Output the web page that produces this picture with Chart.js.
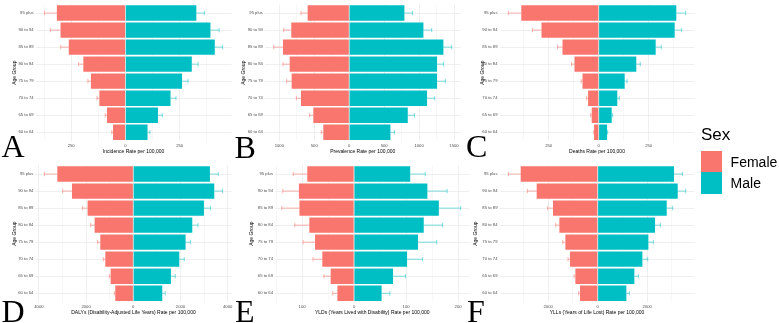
<!DOCTYPE html>
<html><head><meta charset="utf-8">
<script src="https://cdn.jsdelivr.net/npm/chart.js@4.4.1/dist/chart.umd.min.js"></script>
<style>
html,body{margin:0;padding:0;background:#fff;}
#wrap{position:relative;width:779px;height:323px;overflow:hidden;background:#fff;}
#wrap canvas{position:absolute;left:0;top:0;}
.lab{position:absolute;font-family:"Liberation Serif","Times New Roman",serif;font-size:32px;line-height:32px;color:#000;white-space:nowrap;}
.leg{position:absolute;font-family:"Liberation Sans",Arial,sans-serif;color:#000;white-space:nowrap;}
.key{position:absolute;}
</style></head><body>
<div id="wrap">
  <div class="lab" style="left:1.5px;top:129.9px">A</div>
  <div class="lab" style="left:234.5px;top:130.5px">B</div>
  <div class="lab" style="left:466px;top:130.2px">C</div>
  <div class="lab" style="left:1.5px;top:294.9px">D</div>
  <div class="lab" style="left:235px;top:294.9px">E</div>
  <div class="lab" style="left:467px;top:294.9px">F</div>
  <div class="leg" style="left:701px;top:126.3px;font-size:17px;line-height:17px">Sex</div>
  <div class="key" style="left:701px;top:150.7px;width:21.3px;height:21.6px;background:#F8766D"></div>
  <div class="key" style="left:701px;top:172.3px;width:21.3px;height:21.3px;background:#00BFC4"></div>
  <div class="leg" style="left:730.6px;top:154.85px;font-size:14px;line-height:14px">Female</div>
  <div class="leg" style="left:730.6px;top:176.45px;font-size:14px;line-height:14px">Male</div>
</div>
<script>
// ---------------- data ----------------
const ageGroups = ['95 plus','90 to 94','85 to 89','80 to 84','75 to 79','70 to 74','65 to 69','60 to 64'];

const incidenceFemale      = [316, 299, 261, 194, 159, 120, 85, 57];
const incidenceFemaleUpper = [373, 346, 298, 216, 173, 131, 93, 63];
const incidenceMale        = [327, 392, 412, 306, 261, 208, 150, 102];
const incidenceMaleUpper   = [364, 432, 448, 335, 289, 233, 170, 113];
const incidenceTicks       = [-250, 0, 250];

const prevalenceFemale      = [595, 829, 948, 852, 824, 690, 514, 371];
const prevalenceFemaleUpper = [690, 938, 1081, 948, 895, 757, 567, 400];
const prevalenceMale        = [790, 1062, 1348, 1257, 1257, 1114, 838, 590];
const prevalenceMaleUpper   = [905, 1181, 1467, 1348, 1376, 1224, 933, 648];
const prevalenceTicks       = [-1000, -500, 0, 500, 1000, 1500];

const deathsFemale      = [387, 286, 181, 121, 81, 53, 35, 23];
const deathsFemaleUpper = [452, 331, 206, 136, 88, 60, 40, 25];
const deathsMale        = [388, 380, 285, 188, 130, 93, 65, 42];
const deathsMaleUpper   = [435, 415, 313, 208, 142, 103, 70, 45];
const deathsTicks       = [-250, 0, 250];

const dalysFemale      = [3220, 2599, 1935, 1638, 1398, 1186, 960, 763];
const dalysFemaleUpper = [3771, 2994, 2161, 1808, 1511, 1271, 1017, 805];
const dalysMale        = [3249, 3432, 2994, 2500, 2218, 1949, 1596, 1229];
const dalysMaleUpper   = [3602, 3785, 3277, 2740, 2429, 2161, 1780, 1356];
const dalysTicks       = [-4000, -2000, 0, 2000, 4000];

const yldsFemale      = [90, 106, 105, 86, 75, 61, 45, 32];
const yldsFemaleUpper = [117, 137, 139, 114, 98, 79, 58, 41];
const yldsMale        = [108, 141, 163, 134, 123, 102, 75, 53];
const yldsMaleUpper   = [137, 179, 205, 170, 159, 132, 99, 69];
const yldsTicks       = [-100, 0, 100, 200];

const yllsFemale      = [3111, 2465, 1805, 1549, 1306, 1118, 902, 714];
const yllsFemaleUpper = [3609, 2842, 2020, 1697, 1414, 1199, 956, 768];
const yllsMale        = [3084, 3232, 2788, 2316, 2047, 1805, 1481, 1158];
const yllsMaleUpper   = [3421, 3556, 3030, 2532, 2249, 2020, 1643, 1279];
const yllsTicks       = [-2000, 0, 2000];

// ---------------- layout ----------------
const FONT = '"Liberation Sans", Arial, sans-serif';
const FEMALE = '#F8766D', MALE = '#00BFC4';
const rows = [
  {plotT: 3.8, plotB: 140.8, axisB: 156, tickPad: 2.7},
  {plotT: 165.5, plotB: 301.8, axisB: 317, tickPad: 2.4}
];
const panels = [
  {title:'Incidence Rate per 100,000', f:incidenceFemale, fu:incidenceFemaleUpper, m:incidenceMale, mu:incidenceMaleUpper, major:incidenceTicks, minor:[-375,-125,125,375],
   min:-414, max:489, x0:0, plotL:35.6, plotR:231.5, row:0, yTitleX:15},
  {title:'Prevalence Rate per 100,000', f:prevalenceFemale, fu:prevalenceFemaleUpper, m:prevalenceMale, mu:prevalenceMaleUpper, major:prevalenceTicks, minor:[-750,-250,250,750,1250],
   min:-1208, max:1594, x0:240, plotL:264.8, plotR:460.6, row:0, yTitleX:244},
  {title:'Deaths Rate per 100,000', f:deathsFemale, fu:deathsFemaleUpper, m:deathsMale, mu:deathsMaleUpper, major:deathsTicks, minor:[-375,-125,125,375],
   min:-496, max:479, x0:470, plotL:499.5, plotR:694.5, row:0, yTitleX:483},
  {title:'DALYs (Disability-Adjusted Life Years) Rate per 100,000', f:dalysFemale, fu:dalysFemaleUpper, m:dalysMale, mu:dalysMaleUpper, major:dalysTicks, minor:[-3000,-1000,1000,3000],
   min:-4149, max:4163, x0:0, plotL:35.4, plotR:231.5, row:1, yTitleX:15},
  {title:'YLDs (Years Lived with Disability) Rate per 100,000', f:yldsFemale, fu:yldsFemaleUpper, m:yldsMale, mu:yldsMaleUpper, major:yldsTicks, minor:[-150,-50,50,150],
   min:-152, max:222, x0:240, plotL:275, plotR:469.5, row:1, yTitleX:251.7},
  {title:'YLLs (Years of Life Lost) Rate per 100,000', f:yllsFemale, fu:yllsFemaleUpper, m:yllsMale, mu:yllsMaleUpper, major:yllsTicks, minor:[-3000,-1000,1000,3000],
   min:-3967, max:3914, x0:470, plotL:499.5, plotR:694.6, row:1, yTitleX:476}
];

const errorBars = {
  id: 'errorBars',
  afterDatasetsDraw(chart) {
    const xs = chart.scales.x, ys = chart.scales.y, ctx = chart.ctx;
    ctx.save();
    ctx.lineWidth = 1;
    chart.data.datasets.forEach(ds => {
      ctx.strokeStyle = ds.errColor;
      ds.data.forEach((v, i) => {
        const y = ys.getPixelForValue(i);
        const xa = xs.getPixelForValue(v), xb = xs.getPixelForValue(ds.upper[i]);
        ctx.beginPath();
        ctx.moveTo(xa, y); ctx.lineTo(xb, y);
        ctx.moveTo(xb, y - 2.2); ctx.lineTo(xb, y + 2.2);
        ctx.stroke();
      });
    });
    ctx.restore();
  }
};

const wrap = document.getElementById('wrap');
panels.forEach(p => {
  const row = rows[p.row];
  const cv = document.createElement('canvas');
  cv.width = 779; cv.height = 323;
  wrap.insertBefore(cv, wrap.firstChild);
  const allTicks = [...p.major, ...p.minor].sort((a, b) => a - b);
  new Chart(cv, {
    type: 'bar',
    data: {
      labels: ageGroups,
      datasets: [
        {label:'Female', data:p.f.map(v => -v), upper:p.fu.map(v => -v), backgroundColor:FEMALE, errColor:'rgba(248,118,109,0.55)'},
        {label:'Male', data:p.m, upper:p.mu, backgroundColor:MALE, errColor:'rgba(0,191,196,0.5)'}
      ]
    },
    options: {
      indexAxis: 'y', responsive: false, animation: false, devicePixelRatio: 1,
      barPercentage: 0.9, categoryPercentage: 1.0,
      layout: {padding: {left: p.x0, top: row.plotT, right: 779 - p.plotR, bottom: 323 - row.axisB}},
      plugins: {legend: {display: false}, tooltip: {enabled: false}},
      scales: {
        x: {
          type: 'linear', stacked: true, min: p.min, max: p.max,
          afterBuildTicks: s => { s.ticks = allTicks.map(v => ({value: v})); },
          afterFit: s => { s.height = row.axisB - row.plotB; },
          grid: {color: '#EBEBEB', lineWidth: c => (c.tick && p.major.includes(c.tick.value)) ? 0.8 : 0.4, drawTicks: false},
          border: {display: false},
          ticks: {autoSkip: false, maxRotation: 0, padding: row.tickPad, color: '#4D4D4D', font: {family: FONT, size: 4.2},
                  callback: v => p.major.includes(v) ? String(Math.abs(v)) : ''},
          title: {display: true, text: p.title, color: '#000', font: {family: FONT, size: 5}, padding: {top: 0, bottom: 1.3}}
        },
        y: {
          type: 'category', stacked: true, offset: true,
          afterFit: s => { s.width = p.plotL - p.x0; },
          grid: {color: '#EBEBEB', lineWidth: 0.8, offset: false, drawTicks: false},
          border: {display: false},
          ticks: {padding: 2, color: '#4D4D4D', font: {family: FONT, size: 4.2}},
          title: {display: true, text: 'Age Group', color: '#000', font: {family: FONT, size: 5}, padding: {top: p.yTitleX - p.x0 - 3, bottom: 0}}
        }
      }
    },
    plugins: [errorBars]
  });
});
</script>
</body></html>
